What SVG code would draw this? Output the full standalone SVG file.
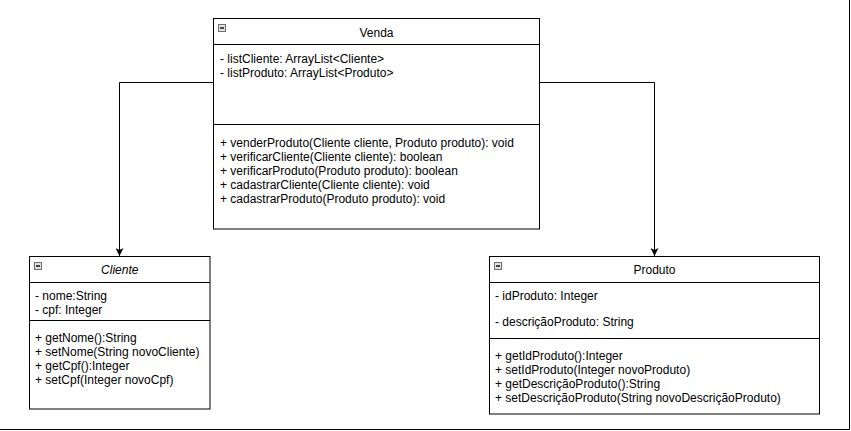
<svg xmlns="http://www.w3.org/2000/svg" width="851" height="431" viewBox="0 0 851 431">
<style>
.box{fill:#fff;stroke:#000;stroke-width:1}
.div{stroke:#000;stroke-width:1}
.t{font-family:"Liberation Sans",Arial,sans-serif;font-size:12px;fill:#000}
.title{text-anchor:middle}
.ic{fill:#e0e0e0;stroke:#707070;stroke-width:1}
.icm{stroke:#101010;stroke-width:1.5}
.conn{fill:none;stroke:#000;stroke-width:1}
</style>
<defs>
<marker id="arr" viewBox="0 0 8 8" refX="8" refY="4" markerWidth="8" markerHeight="8" markerUnits="userSpaceOnUse" orient="auto">
<path d="M0,0 L8,4 L0,8 L2,4 Z" fill="#000"/>
</marker>
</defs>
<rect width="851" height="431" fill="#fff"/>
<g id="frame">
<line x1="849.5" y1="0" x2="849.5" y2="429.5" stroke="#000"/>
<line x1="0" y1="429.5" x2="849.5" y2="429.5" stroke="#000"/>
</g>
<g id="connectors">
<path class="conn" d="M213.5 82.5 H119.5 V256" marker-end="url(#arr)"/>
<path class="conn" d="M539.5 82.5 H654.5 V256" marker-end="url(#arr)"/>
</g>
<g id="venda">
<rect class="box" x="213.5" y="18.5" width="326" height="210.5"/>
<line class="div" x1="213.5" y1="44.5" x2="539.5" y2="44.5"/>
<line class="div" x1="213.5" y1="124.5" x2="539.5" y2="124.5"/>
<rect class="ic" x="218.5" y="24.5" width="7" height="7"/>
<line class="icm" x1="220" y1="28" x2="224" y2="28"/>
<text class="t title" x="376.5" y="37">Venda</text>
<text class="t" x="220" y="63">- listCliente: ArrayList&lt;Cliente&gt;</text>
<text class="t" x="220" y="77">- listProduto: ArrayList&lt;Produto&gt;</text>
<text class="t" x="220" y="147">+ venderProduto(Cliente cliente, Produto produto): void</text>
<text class="t" x="220" y="161">+ verificarCliente(Cliente cliente): boolean</text>
<text class="t" x="220" y="175">+ verificarProduto(Produto produto): boolean</text>
<text class="t" x="220" y="189">+ cadastrarCliente(Cliente cliente): void</text>
<text class="t" x="220" y="203">+ cadastrarProduto(Produto produto): void</text>
</g>
<g id="cliente">
<rect class="box" x="29.5" y="256.5" width="180.5" height="152.5"/>
<line class="div" x1="29.5" y1="282.5" x2="210" y2="282.5"/>
<line class="div" x1="29.5" y1="320.5" x2="210" y2="320.5"/>
<rect class="ic" x="34.5" y="262.5" width="7" height="7"/>
<line class="icm" x1="36" y1="266" x2="40" y2="266"/>
<text class="t title" x="119.75" y="274" font-style="italic">Cliente</text>
<text class="t" x="35" y="300">- nome:String</text>
<text class="t" x="35" y="314">- cpf: Integer</text>
<text class="t" x="35" y="342">+ getNome():String</text>
<text class="t" x="35" y="356">+ setNome(String novoCliente)</text>
<text class="t" x="35" y="370">+ getCpf():Integer</text>
<text class="t" x="35" y="384">+ setCpf(Integer novoCpf)</text>
</g>
<g id="produto">
<rect class="box" x="489.5" y="256.5" width="330" height="157.5"/>
<line class="div" x1="489.5" y1="282.5" x2="819.5" y2="282.5"/>
<line class="div" x1="489.5" y1="338.5" x2="819.5" y2="338.5"/>
<rect class="ic" x="494.5" y="262.5" width="7" height="7"/>
<line class="icm" x1="496" y1="266" x2="500" y2="266"/>
<text class="t title" x="654.5" y="274">Produto</text>
<text class="t" x="495" y="300">- idProduto: Integer</text>
<text class="t" x="495" y="326">- descriçãoProduto: String</text>
<text class="t" x="495" y="360">+ getIdProduto():Integer</text>
<text class="t" x="495" y="374">+ setIdProduto(Integer novoProduto)</text>
<text class="t" x="495" y="388">+ getDescriçãoProduto():String</text>
<text class="t" x="495" y="402">+ setDescriçãoProduto(String novoDescriçãoProduto)</text>
</g>
</svg>
